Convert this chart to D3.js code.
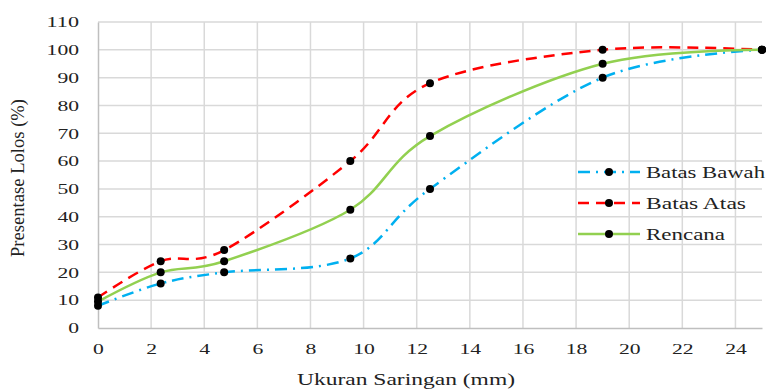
<!DOCTYPE html>
<html>
<head>
<meta charset="utf-8">
<script src="https://cdn.jsdelivr.net/npm/d3@7"></script>
<style>
    body { margin: 0; background: #fff; }
    svg text { font-family: "Liberation Serif", "Times New Roman", "DejaVu Serif", serif; fill: #222; }
</style>
</head>
<body>
<div id="chart"></div>
<script>
// Ukuran saringan (mm)
const sieveSizes = [0, 2.36, 4.75, 9.5, 12.5, 19, 25];

const batasBawah = [8, 16, 20, 25, 50, 90, 100];
const batasAtas = [11, 24, 28, 60, 88, 100, 100];
const rencana = [9.5, 20, 24, 42.5, 69, 95, 100];

const xTicks = [0, 2, 4, 6, 8, 10, 12, 14, 16, 18, 20, 22, 24];
const yTicks = [0, 10, 20, 30, 40, 50, 60, 70, 80, 90, 100, 110];

const seriesNames = ["Batas Bawah", "Batas Atas", "Rencana"];

const series = [
    { name: seriesNames[0], values: batasBawah, color: "#00b0f0", dash: "12,6,2,6" },
    { name: seriesNames[1], values: batasAtas, color: "#ff0000", dash: "11,7" },
    { name: seriesNames[2], values: rencana, color: "#92d050", dash: null }
];

const W = 771, H = 389;
const margin = { top: 22, right: 9, bottom: 61, left: 98 };
const width = W - margin.left - margin.right,
    height = H - margin.top - margin.bottom;

// the original picture is stretched sideways, so text is widened to match
const stretch = 1.3;
function widen(sel, w) {
    sel.attr("textLength", w).attr("lengthAdjust", "spacingAndGlyphs");
}

const svg = d3.select("#chart").append("svg")
    .attr("width", W)
    .attr("height", H);

const g = svg.append("g")
    .attr("transform", "translate(" + margin.left + "," + margin.top + ")");

// Scales
const x = d3.scaleLinear().domain([0, 25]).range([0, width]);
const y = d3.scaleLinear().domain([0, 110]).range([height, 0]);

// Grid
g.append("g").selectAll("line")
    .data(yTicks.slice(1))
    .enter().append("line")
    .attr("x1", 0).attr("x2", width)
    .attr("y1", d => y(d)).attr("y2", d => y(d))
    .attr("stroke", "#d9d9d9").attr("stroke-width", 1.5);

g.append("g").selectAll("line")
    .data(xTicks.slice(1))
    .enter().append("line")
    .attr("x1", d => x(d)).attr("x2", d => x(d))
    .attr("y1", 0).attr("y2", height)
    .attr("stroke", "#d9d9d9").attr("stroke-width", 1.5);

// Axes
const xAxis = d3.axisBottom(x).tickValues(xTicks).tickSize(0).tickPadding(15);
const yAxis = d3.axisLeft(y).tickValues(yTicks).tickSize(0).tickPadding(19);

const gx = g.append("g")
    .attr("transform", "translate(0," + height + ")")
    .call(xAxis);
const gy = g.append("g").call(yAxis);

[gx, gy].forEach(a => {
    a.attr("font-family", null);
    a.select(".domain").attr("stroke", "#bfbfbf").attr("stroke-width", 1.5);
    a.selectAll("text")
        .attr("font-size", 15)
        .attr("fill", "#222")
        .call(widen, d => String(d).length * 10.8);
});

// Axis titles
svg.append("text")
    .attr("x", 406)
    .attr("y", 385)
    .attr("text-anchor", "middle")
    .attr("font-size", 16)
    .call(widen, 218)
    .text("Ukuran Saringan (mm)");

svg.append("text")
    .attr("transform", "translate(24,178) scale(" + stretch + ",1) rotate(-90)")
    .attr("text-anchor", "middle")
    .attr("font-size", 15)
    .call(widen, 158)
    .text("Presentase Lolos (%)");

// Lines
const line = d3.line()
    .x(d => x(d[0]))
    .y(d => y(d[1]))
    .curve(d3.curveCatmullRom.alpha(0));

series.forEach(s => {
    const pts = sieveSizes.map((v, i) => [v, s.values[i]]);
    g.append("path")
        .datum(pts)
        .attr("fill", "none")
        .attr("stroke", s.color)
        .attr("stroke-width", 2.5)
        .attr("stroke-dasharray", s.dash)
        .attr("d", line);
});

series.forEach(s => {
    g.append("g").selectAll("circle")
        .data(sieveSizes.map((v, i) => [v, s.values[i]]))
        .enter().append("circle")
        .attr("cx", d => x(d[0]))
        .attr("cy", d => y(d[1]))
        .attr("r", 4)
        .attr("fill", "#000");
});

// Legend
const legendWidths = [119, 100, 79];
const legend = svg.append("g").attr("transform", "translate(578,172)");
series.forEach((s, i) => {
    const row = legend.append("g").attr("transform", "translate(0," + (i * 31) + ")");
    row.append("line")
        .attr("x1", 0).attr("x2", 62)
        .attr("stroke", s.color)
        .attr("stroke-width", 2.5)
        .attr("stroke-dasharray", s.dash);
    row.append("circle").attr("cx", 31).attr("r", 4).attr("fill", "#000");
    row.append("text")
        .attr("x", 68)
        .attr("y", 6)
        .attr("font-size", 17)
        .call(widen, legendWidths[i])
        .text(s.name);
});
</script>
</body>
</html>
